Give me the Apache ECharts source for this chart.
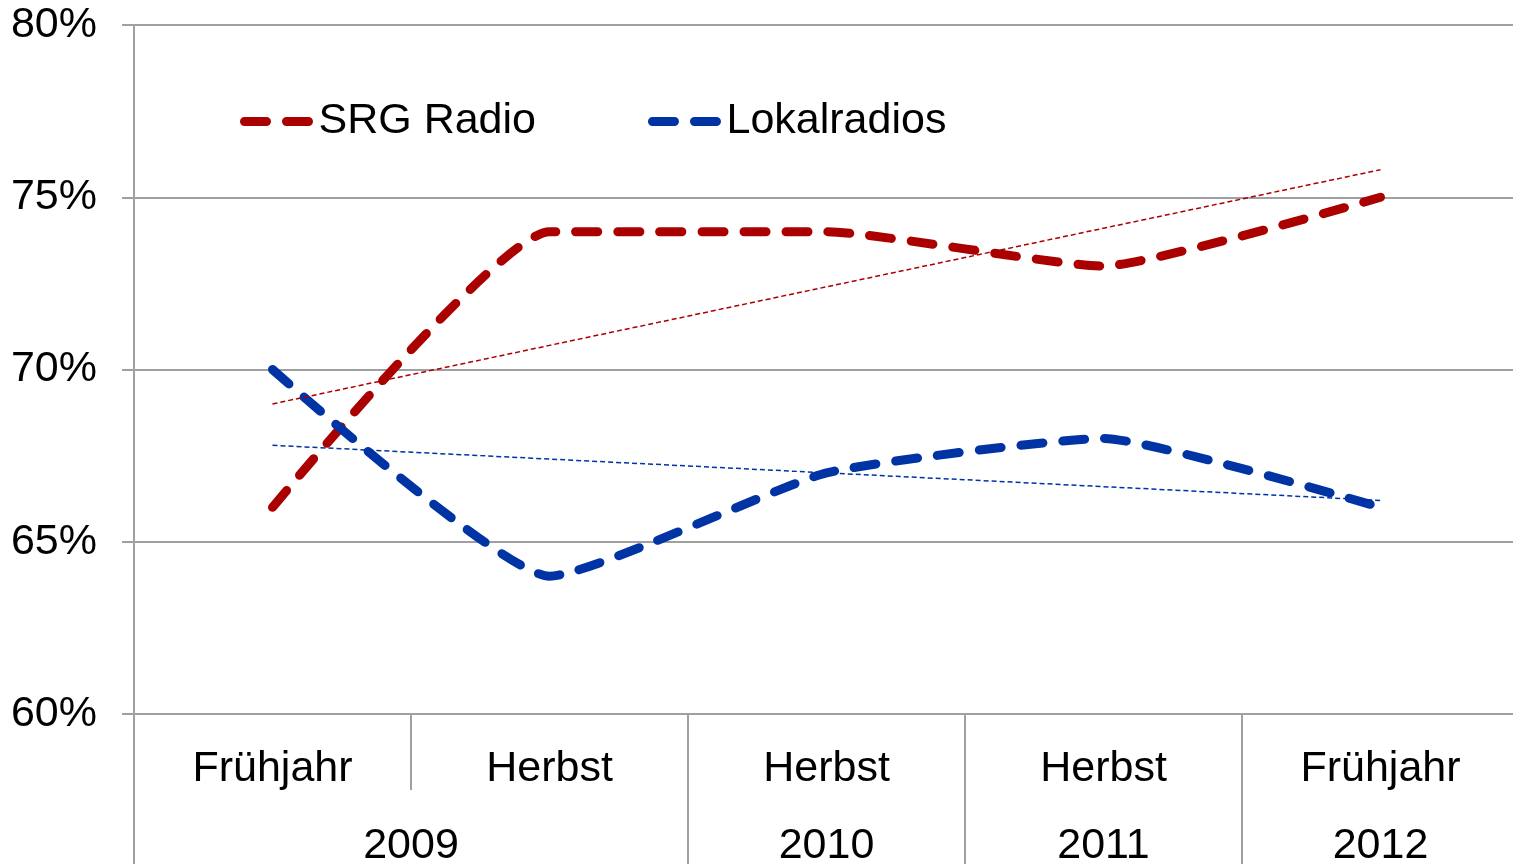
<!DOCTYPE html>
<html>
<head>
<meta charset="utf-8">
<style>
  html, body { margin: 0; padding: 0; background: #fff; }
  #chart { width: 1513px; height: 864px; }
</style>
<script src="https://cdn.jsdelivr.net/npm/echarts@6/dist/echarts.min.js"></script>
</head>
<body>
<div id="chart"></div>
<script>
  // Kategorien (Erhebungswelle) und Jahre darunter
  var categories = ['Frühjahr', 'Herbst', 'Herbst', 'Herbst', 'Frühjahr'];
  var yearLabels = ['2009', '2010', '2011', '2012'];
  var yearPositions = [0.5, 2, 3, 4];
  var yearBorders = [-0.5, 1.5, 2.5, 3.5];

  // Werte in %
  var srgRadio = [66, 74, 74, 73, 75];
  var lokalradios = [70, 64, 67, 68, 66];
  // lineare Trendlinien
  var srgTrend = [69.0, 70.7, 72.4, 74.1, 75.8];
  var lokalTrend = [67.8, 67.4, 67.0, 66.6, 66.2];

  var yTicks = [60, 65, 70, 75, 80];

  var font = '"Liberation Sans", Arial, sans-serif';
  var fontSize = 43;
  var grey = '#a0a0a0';
  var red = '#aa0000';
  var blue = '#0033a3';

  var chart = echarts.init(document.getElementById('chart'));

  var option = {
    animation: false,
    backgroundColor: '#fff',
    textStyle: { fontFamily: font },
    grid: {
      left: 134,
      width: 1385,
      top: 25,
      bottom: 150,
      containLabel: false,
      outerBoundsMode: 'none'
    },
    legend: {
      data: ['SRG Radio', 'Lokalradios'],
      left: 235,
      top: 95,
      itemWidth: 69,
      itemHeight: 14,
      itemGap: 112,
      itemStyle: { opacity: 0 },
      lineStyle: { width: 9, type: [22, 20], cap: 'round' },
      textStyle: { fontSize: fontSize, color: '#000', fontFamily: font }
    },
    xAxis: [
      {
        type: 'category',
        data: categories,
        boundaryGap: true,
        axisLine: { show: true, lineStyle: { color: grey, width: 2 } },
        axisTick: { show: true, interval: 0, length: 76, lineStyle: { color: grey, width: 2 } },
        axisLabel: { interval: 0, margin: 34, fontSize: fontSize, color: '#000', fontFamily: font },
        splitLine: { show: false }
      },
      {
        type: 'value',
        position: 'bottom',
        offset: 76,
        min: -0.5,
        max: 4.5,
        axisLine: { show: false },
        axisTick: {
          show: true,
          length: 80,
          customValues: yearBorders,
          lineStyle: { color: grey, width: 2 }
        },
        axisLabel: {
          margin: 35,
          fontSize: fontSize,
          color: '#000',
          fontFamily: font,
          customValues: yearPositions,
          formatter: function (v) {
            var i = yearPositions.indexOf(v);
            return i >= 0 ? yearLabels[i] : '';
          }
        },
        splitLine: { show: false }
      }
    ],
    yAxis: {
      type: 'value',
      min: yTicks[0],
      max: yTicks[yTicks.length - 1],
      interval: 5,
      axisLine: { show: true, onZero: false, lineStyle: { color: grey, width: 2 } },
      axisTick: { show: true, length: 12, lineStyle: { color: grey, width: 2 } },
      axisLabel: {
        margin: 37,
        fontSize: fontSize,
        color: '#000',
        fontFamily: font,
        padding: [4, 0, 0, 0],
        formatter: '{value}%'
      },
      splitLine: { show: true, lineStyle: { color: grey, width: 2 } }
    },
    series: [
      {
        name: 'SRG Radio',
        type: 'line',
        data: srgRadio,
        smooth: 0.15,
        symbol: 'none',
        color: red,
        lineStyle: { color: red, width: 9, type: [22, 20], cap: 'round' },
        z: 3
      },
      {
        name: 'Lokalradios',
        type: 'line',
        data: lokalradios,
        smooth: 0.15,
        symbol: 'none',
        color: blue,
        lineStyle: { color: blue, width: 9, type: [22, 20], cap: 'round' },
        z: 3
      },
      {
        name: 'Trend SRG',
        type: 'line',
        data: srgTrend,
        symbol: 'none',
        silent: true,
        lineStyle: { color: red, width: 1.5, type: [5, 3] },
        z: 4
      },
      {
        name: 'Trend Lokal',
        type: 'line',
        data: lokalTrend,
        symbol: 'none',
        silent: true,
        lineStyle: { color: blue, width: 1.5, type: [5, 3] },
        z: 4
      }
    ]
  };

  chart.setOption(option);
</script>
</body>
</html>
